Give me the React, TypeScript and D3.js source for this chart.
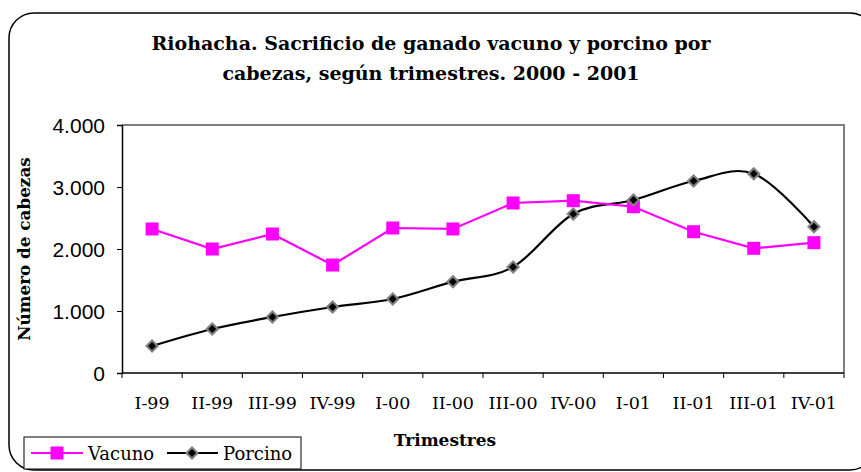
import React, { useEffect, useRef } from 'react';
import * as d3 from 'd3';

const categories = ['I-99', 'II-99', 'III-99', 'IV-99', 'I-00', 'II-00', 'III-00', 'IV-00', 'I-01', 'II-01', 'III-01', 'IV-01'];
const vacuno = [2323, 2000, 2242, 1742, 2339, 2323, 2742, 2779, 2682, 2279, 2011, 2102];
const porcino = [435, 710, 903, 1065, 1194, 1473, 1710, 2565, 2790, 3097, 3215, 2360];
const yTicks = [0, 1000, 2000, 3000, 4000];

const W = 861;
const H = 472;
const serif = '"DejaVu Serif", serif';
const sans = '"Liberation Sans", Arial, sans-serif';

const App: React.FC = () => {
  const svgRef = useRef<SVGSVGElement>(null);

  useEffect(() => {
    if (!svgRef.current) return;
    const svg = d3.select(svgRef.current);
    svg.selectAll('*').remove();

    const plot = { left: 122, right: 844, top: 125, bottom: 373 };

    // outer rounded frame
    svg.append('rect')
      .attr('x', 9).attr('y', 13)
      .attr('width', 866).attr('height', 457)
      .attr('rx', 25).attr('ry', 25)
      .attr('fill', '#fff').attr('stroke', '#000').attr('stroke-width', 1.5);

    // title
    const title = svg.append('text')
      .attr('text-anchor', 'middle')
      .attr('font-family', serif)
      .attr('font-weight', 'bold')
      .attr('font-size', 19)
      .attr('fill', '#000');
    title.append('tspan').attr('x', 431).attr('y', 50).text('Riohacha. Sacrificio de ganado vacuno y porcino por');
    title.append('tspan').attr('x', 431).attr('y', 80).text('cabezas, según trimestres. 2000 - 2001');

    const x = d3.scaleBand<string>().domain(categories).range([plot.left, plot.right]);
    const y = d3.scaleLinear().domain([0, 4000]).range([plot.bottom, plot.top]);
    const cx = (c: string) => (x(c) as number) + x.bandwidth() / 2;

    // plot area border (gray top/right)
    svg.append('path')
      .attr('d', `M${plot.left},${plot.top}H${plot.right}V${plot.bottom}`)
      .attr('fill', 'none').attr('stroke', '#808080').attr('stroke-width', 2);

    // y axis
    const fmt = (v: number) => d3.format(',')(v).replace(/,/g, '.');
    const yAxis = svg.append('g').attr('transform', `translate(${plot.left},0)`)
      .call(d3.axisLeft(y).tickValues(yTicks).tickSize(5).tickPadding(12).tickFormat((d) => fmt(d as number)));
    yAxis.select('.domain').attr('stroke', '#000').attr('stroke-width', 1.5);
    yAxis.selectAll('line').attr('stroke', '#000');
    yAxis.selectAll('text').attr('font-family', sans).attr('font-size', 21).attr('fill', '#000').attr('dy', '0.36em');

    // x axis with ticks at category boundaries
    const xg = svg.append('g');
    xg.append('line')
      .attr('x1', plot.left).attr('x2', plot.right)
      .attr('y1', plot.bottom).attr('y2', plot.bottom)
      .attr('stroke', '#000').attr('stroke-width', 1.5);
    const bounds = categories.map((c) => x(c) as number).concat([plot.right]);
    xg.selectAll('line.tick').data(bounds).enter().append('line')
      .attr('class', 'tick')
      .attr('x1', (d) => d).attr('x2', (d) => d)
      .attr('y1', plot.bottom).attr('y2', plot.bottom + 5)
      .attr('stroke', '#000');
    xg.selectAll('text').data(categories).enter().append('text')
      .attr('x', (d) => cx(d))
      .attr('y', 409)
      .attr('text-anchor', 'middle')
      .attr('font-family', serif)
      .attr('font-size', 17.5)
      .attr('fill', '#000')
      .text((d) => d);

    // axis titles
    svg.append('text')
      .attr('transform', `translate(30,249) rotate(-90)`)
      .attr('text-anchor', 'middle')
      .attr('font-family', serif).attr('font-weight', 'bold').attr('font-size', 16.8)
      .text('Número de cabezas');
    svg.append('text')
      .attr('x', 445).attr('y', 446)
      .attr('text-anchor', 'middle')
      .attr('font-family', serif).attr('font-weight', 'bold').attr('font-size', 17)
      .text('Trimestres');

    // Porcino smooth line
    const lineP = d3.line<number>()
      .x((_, i) => cx(categories[i]))
      .y((d) => y(d))
      .curve(d3.curveCatmullRom.alpha(0));
    svg.append('path').datum(porcino)
      .attr('d', lineP)
      .attr('fill', 'none').attr('stroke', '#000').attr('stroke-width', 2.2);

    // Vacuno straight line
    const lineV = d3.line<number>()
      .x((_, i) => cx(categories[i]))
      .y((d) => y(d));
    svg.append('path').datum(vacuno)
      .attr('d', lineV)
      .attr('fill', 'none').attr('stroke', '#ff00ff').attr('stroke-width', 2.2);

    const square = (g: any, px: number, py: number) => {
      g.append('rect')
        .attr('x', px - 6.5).attr('y', py - 6.5)
        .attr('width', 13).attr('height', 13)
        .attr('fill', '#ff00ff');
    };
    const diamond = (g: any, px: number, py: number) => {
      g.append('path')
        .attr('d', `M${px},${py - 7}L${px + 7},${py}L${px},${py + 7}L${px - 7},${py}Z`)
        .attr('fill', '#808080');
      g.append('path')
        .attr('d', `M${px},${py - 4}L${px + 4},${py}L${px},${py + 4}L${px - 4},${py}Z`)
        .attr('fill', '#000');
    };

    vacuno.forEach((v, i) => square(svg, cx(categories[i]), y(v)));
    porcino.forEach((v, i) => diamond(svg, cx(categories[i]), y(v)));

    // legend
    const lg = svg.append('g');
    lg.append('rect')
      .attr('x', 24).attr('y', 437).attr('width', 277).attr('height', 32)
      .attr('fill', '#fff').attr('stroke', '#000').attr('stroke-width', 1);
    lg.append('line').attr('x1', 31).attr('x2', 83).attr('y1', 453).attr('y2', 453)
      .attr('stroke', '#ff00ff').attr('stroke-width', 2.2);
    square(lg, 57, 453);
    lg.append('text').attr('x', 88).attr('y', 460)
      .attr('font-family', serif).attr('font-size', 18).text('Vacuno');
    lg.append('line').attr('x1', 167).attr('x2', 218).attr('y1', 453).attr('y2', 453)
      .attr('stroke', '#000').attr('stroke-width', 2.2);
    diamond(lg, 192, 453);
    lg.append('text').attr('x', 223).attr('y', 460)
      .attr('font-family', serif).attr('font-size', 18).text('Porcino');
  }, []);

  return (
    <svg
      ref={svgRef}
      width={W}
      height={H}
      style={{ position: 'absolute', left: 0, top: 0, background: '#fff' }}
    />
  );
};

export default App;
